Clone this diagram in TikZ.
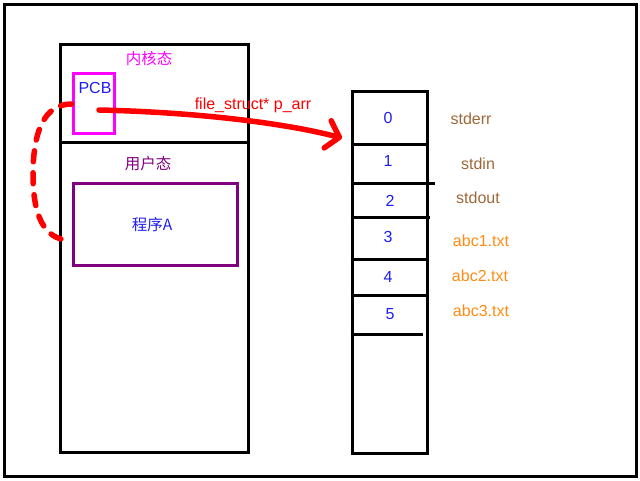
\documentclass[tikz,border=0pt]{standalone}
\usepackage{fontspec}
\setmainfont{Liberation Sans}
\newfontfamily\cjk{Noto Sans CJK SC}
\usetikzlibrary{arrows.meta}
\definecolor{fdbrown}{RGB}{160,104,56}
\definecolor{fdorange}{RGB}{255,140,20}
\definecolor{numblue}{RGB}{30,30,240}
\definecolor{pcbpink}{RGB}{255,0,255}
\definecolor{progpurple}{RGB}{128,0,128}
\definecolor{ptrred}{RGB}{255,0,0}

\begin{document}
\begin{tikzpicture}[x=1pt,y=-1pt,
    every node/.style={font=\fontsize{16}{18}\selectfont,inner sep=0pt},
    cjklabel/.style={font=\cjk\fontsize{15.5}{18}\selectfont},
    frame/.style={draw=black,line width=3pt}]
  \useasboundingbox (0,0) rectangle (640,480);
  % outer frame
  \node[frame,minimum width=632pt,minimum height=472pt] (outer) at (320,240) {};
  % process: kernel / user space
  \node[frame,minimum width=188pt,minimum height=408pt] (proc) at (154,248) {};
  \draw[line width=3pt] (proc.west |- 0,142) coordinate (sepl) -- (proc.east |- 0,142) coordinate (sepr);
  \node[pcbpink,cjklabel] (kern) at (149,59) {内核态};
  \node[draw=pcbpink,line width=3pt,minimum width=41pt,minimum height=60pt] (pcb) at (93.5,103) {};
  \node[numblue] (pcbl) at (95,88) {PCB};
  \node[progpurple,cjklabel] (user) at (148,164) {用户态};
  \node[draw=progpurple,line width=3pt,minimum width=164pt,minimum height=82pt] (prog) at (155,224) {};
  \node[numblue,cjklabel] (progl) at (152,225) {程序A};
  % file descriptor table
  \node[frame,minimum width=75pt,minimum height=362pt] (fdt) at (389.5,272) {};
  \foreach \y/\e in {144/427,183/435,217/430,259/427,295/427,334/423}{
    \draw[line width=3pt] (fdt.west |- 0,\y) -- (\e,\y);
  }
  \foreach \n/\x/\y in {0/388/118,1/388/161,2/390/201,3/388/237,4/388/277,5/390/314}{
    \node[numblue] (fd\n) at (\x,\y) {\n};
  }
  \node[fdbrown] (err) at (471,119) {stderr};
  \node[fdbrown] (in) at (478,164) {stdin};
  \node[fdbrown] (out) at (478,198) {stdout};
  \node[fdorange] (f1) at (481,241) {abc1.txt};
  \node[fdorange] (f2) at (480,276) {abc2.txt};
  \node[fdorange] (f3) at (481,311) {abc3.txt};
  % pointer from the PCB to the table
  \coordinate (pstart) at (99,110);
  \coordinate (ptip) at (342,138);
  \draw[ptrred,line width=5.5pt,line cap=round,-{Straight Barb[length=12pt,width=28pt,round]}]
    (pstart) .. controls (190,112) and (280,122) .. (ptip);
  \node[ptrred] (plabel) at (253,105) {file\_struct* p\_arr};
  % PCB belongs to the program
  \draw[ptrred,line width=5.5pt,line cap=round,dash pattern=on 11pt off 11pt]
    (pcb.west |- 0,104) .. controls (45,104) and (33,130) .. (33,175)
    .. controls (33,225) and (50,241) .. (prog.west |- 0,240);
\end{tikzpicture}
\end{document}
